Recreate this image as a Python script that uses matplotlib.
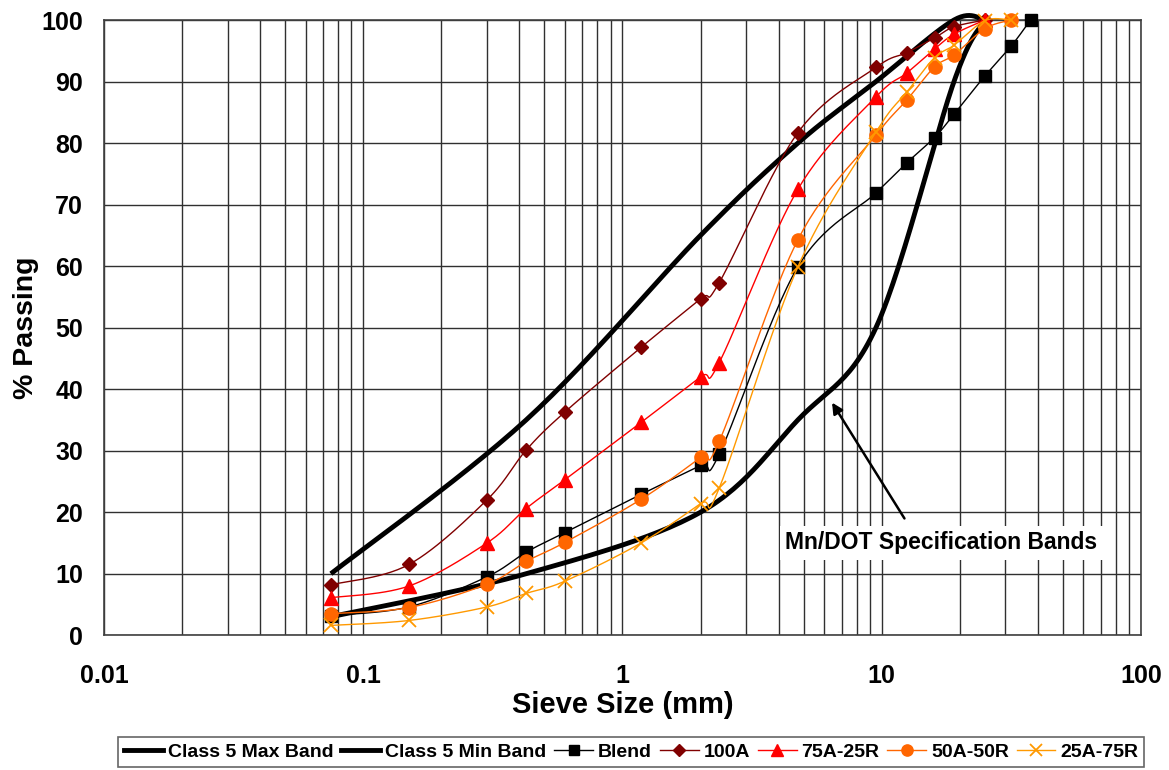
import numpy as np
import matplotlib
matplotlib.use('Agg')
from matplotlib import pyplot as plt
from matplotlib.ticker import FixedLocator, LogLocator, NullFormatter, FuncFormatter
from matplotlib.lines import Line2D

plt.rcParams['font.family'] = ['Liberation Sans', 'DejaVu Sans']
plt.rcParams['font.weight'] = 'bold'

# spec bands (Mn/DOT Class 5)
band_sizes = [0.075, 0.425, 2.0, 4.75, 9.5, 19.0, 25.0]
band_max = [10, 35, 65, 80, 90, 100, 100]
band_min = [3, 10, 20, 35, 50, 90, 100]

# gradations
sieves = [0.075, 0.15, 0.3, 0.425, 0.6, 1.18, 2.0, 2.36, 4.75, 9.5, 12.5, 16.0, 19.0, 25.0, 31.5, 37.5]
blend = [3.2, 4.6, 9.5, 13.5, 16.7, 22.9, 27.6, 29.4, 59.9, 71.9, 76.8, 80.9, 84.7, 90.9, 95.7, 100.0]
sieves_a = [0.075, 0.15, 0.3, 0.425, 0.6, 1.18, 2.0, 2.36, 4.75, 9.5, 12.5, 16.0, 19.0, 25.0]
a100 = [8.2, 11.5, 22.0, 30.1, 36.3, 46.8, 54.7, 57.3, 81.7, 92.3, 94.7, 97.1, 98.9, 100.0]
a75r25 = [6.1, 8.0, 15.0, 20.6, 25.3, 34.6, 42.0, 44.3, 72.5, 87.5, 91.4, 95.3, 97.7, 100.0]
sieves_b = [0.075, 0.15, 0.3, 0.425, 0.6, 1.18, 2.0, 2.36, 4.75, 9.5, 12.5, 16.0, 19.0, 25.0, 31.5]
a50r50 = [3.5, 4.5, 8.3, 12.0, 15.1, 22.1, 28.9, 31.5, 64.3, 81.3, 87.0, 92.4, 94.3, 98.6, 100.0]
a25r75 = [1.6, 2.4, 4.6, 6.8, 8.8, 15.0, 21.4, 23.9, 59.9, 81.8, 88.3, 93.9, 95.9, 99.9, 100.0]

xticks = [0.01, 0.1, 1, 10, 100]


def smooth(x, y, n=30):
    # excel-like smoothed line, done in log-x space
    pts = np.column_stack([np.log10(x), y]).astype(float)
    m = len(pts)
    out = []
    t = np.linspace(0, 1, n)[:, None]
    for i in range(m - 1):
        p0 = pts[max(i - 1, 0)]
        p1 = pts[i]
        p2 = pts[i + 1]
        p3 = pts[min(i + 2, m - 1)]
        c1 = p1 + (p2 - p0) / 6.0
        c2 = p2 - (p3 - p1) / 6.0
        seg = ((1 - t) ** 3) * p1 + 3 * ((1 - t) ** 2) * t * c1 + 3 * (1 - t) * t ** 2 * c2 + t ** 3 * p2
        out.append(seg if i == 0 else seg[1:])
    out = np.vstack(out)
    return 10 ** out[:, 0], out[:, 1]


fig = plt.figure(figsize=(11.69, 7.7), dpi=100)
ax = fig.add_axes([0.089, 0.175, 0.887, 0.799])

series = [
    (band_sizes, band_max, 'Class 5 Max Band', dict(color='black', lw=3.5), None),
    (band_sizes, band_min, 'Class 5 Min Band', dict(color='black', lw=3.5), None),
    (sieves, blend, 'Blend', dict(color='black', lw=1.0), dict(marker='s', ms=9, color='black')),
    (sieves_a, a100, '100A', dict(color='#800000', lw=1.0), dict(marker='D', ms=7.5, color='#800000')),
    (sieves_a, a75r25, '75A-25R', dict(color='#FF0000', lw=1.0), dict(marker='^', ms=9.5, color='#FF0000')),
    (sieves_b, a50r50, '50A-50R', dict(color='#FF6600', lw=1.0), dict(marker='o', ms=9.5, color='#FF6600')),
    (sieves_b, a25r75, '25A-75R', dict(color='#FF9900', lw=1.0), dict(marker='x', ms=10, color='#FF9900', mew=1.3)),
]

handles = []
for k, (xs, ys, name, lstyle, mstyle) in enumerate(series):
    sx, sy = smooth(xs, ys)
    ax.plot(sx, sy, zorder=3 + k, solid_capstyle='butt', clip_on=False, **lstyle)
    if mstyle is not None:
        ax.plot(xs, ys, ls='none', zorder=3 + k, clip_on=False, **mstyle)
        handles.append(Line2D([], [], **lstyle, **{'marker': mstyle['marker'], 'ms': mstyle['ms'] * 0.85,
                                                   'mew': mstyle.get('mew', 1.0)}))
    else:
        handles.append(Line2D([], [], **lstyle))

ax.set_xscale('log')
ax.set_xlim(0.01, 100)
ax.set_ylim(0, 100)
ax.xaxis.set_major_locator(FixedLocator(xticks))
ax.xaxis.set_minor_locator(LogLocator(base=10, subs=np.arange(2, 10)))
ax.xaxis.set_minor_formatter(NullFormatter())
ax.xaxis.set_major_formatter(FuncFormatter(lambda v, p: '%g' % v))
ax.set_yticks(np.arange(0, 101, 10))
ax.grid(True, which='both', axis='x', color='#303030', lw=1.0, zorder=0)
ax.grid(True, which='major', axis='y', color='#303030', lw=1.0, zorder=0)
ax.tick_params(which='both', length=0, labelsize=18)
ax.tick_params(axis='x', pad=21)
ax.tick_params(axis='y', pad=15)
for lab in ax.get_xticklabels() + ax.get_yticklabels():
    lab.set_fontweight('bold')
for s in ax.spines.values():
    s.set_color('#404040')
    s.set_linewidth(1.2)
ax.set_axisbelow(True)

ax.set_xlabel('Sieve Size (mm)', fontsize=21, fontweight='bold', labelpad=2)
ax.set_ylabel('% Passing', fontsize=20.5, fontweight='bold', labelpad=2)

ax.annotate('', xy=(6.35, 38.2), xytext=(12.4, 18.6),
            arrowprops=dict(arrowstyle='-|>', color='black', lw=1.8, mutation_scale=16), zorder=20)
ax.text(17.0, 15.0, 'Mn/DOT Specification Bands', ha='center', va='center', fontsize=16.5,
        fontweight='bold', zorder=20, bbox=dict(boxstyle='square,pad=0.25', facecolor='white', edgecolor='none'))

leg = fig.legend(handles, [s[2] for s in series], loc='center', bbox_to_anchor=(0.540, 0.0234),
                 ncol=7, frameon=True, fancybox=False, edgecolor='#404040',
                 handlelength=2.0, handletextpad=0.25, columnspacing=0.4, borderpad=0.3,
                 borderaxespad=0, prop={'weight': 'bold', 'size': 14})
leg.get_frame().set_linewidth(1.2)

fig.savefig('out.png', dpi=100)
